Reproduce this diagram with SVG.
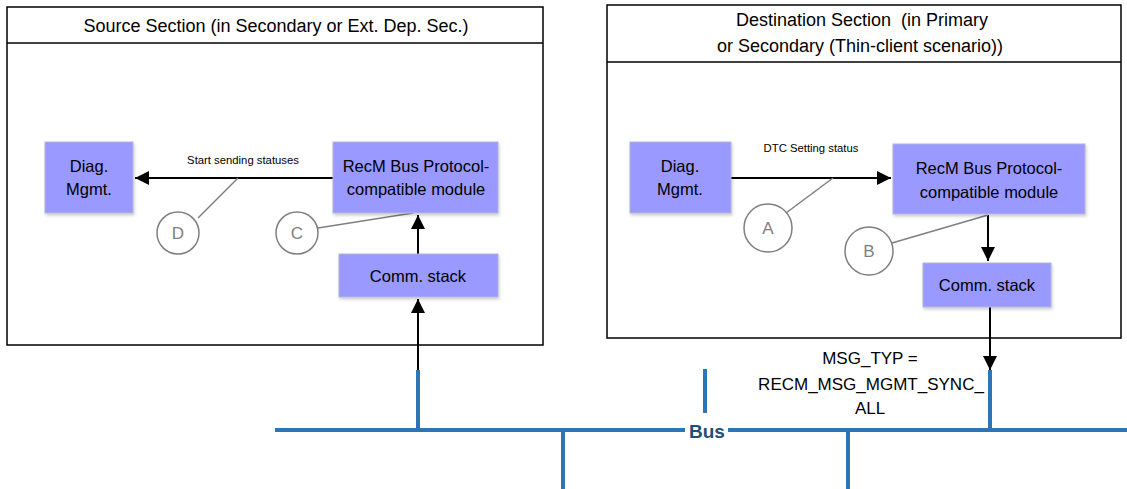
<svg xmlns="http://www.w3.org/2000/svg" width="1127" height="489" viewBox="0 0 1127 489">
<defs>
<marker id="ahb" viewBox="0 0 10 10" refX="10" refY="5" markerWidth="14" markerHeight="14" markerUnits="userSpaceOnUse" orient="auto">
<path d="M0,0 L10,5 L0,10 z" fill="#000"/>
</marker>
<filter id="sh" x="-10%" y="-10%" width="130%" height="140%">
<feDropShadow dx="1" dy="2" stdDeviation="1.5" flood-color="#000" flood-opacity="0.2"/>
</filter>
</defs>
<style>
text{font-family:"Liberation Sans","Noto Sans",sans-serif;fill:#000}
.cont{fill:#fff;stroke:#000;stroke-width:1.5}
.box{fill:#9999FF;stroke:#b4b4d8;stroke-width:1;filter:url(#sh)}
.bt{font-size:16.5px;text-anchor:middle}
.title{font-size:18px;text-anchor:middle}
.lbl{font-size:11.3px;text-anchor:middle}
.circ{fill:#fff;stroke:#7f7f7f;stroke-width:1.5}
.ct{font-size:17px;fill:#7f7f7f;text-anchor:middle}
.lead{stroke:#7f7f7f;stroke-width:1.5;fill:none}
.arr{stroke:#000;stroke-width:2;fill:none}
.msg{font-size:17px;text-anchor:middle}
.bus{stroke:#2E75B6;stroke-width:4;fill:none}
</style>
<g id="source-section">
<rect class="cont" x="7" y="7" width="536" height="338"/>
<line x1="7" y1="43" x2="543" y2="43" stroke="#000" stroke-width="1.5"/>
<text class="title" x="276" y="32">Source Section (in Secondary or Ext. Dep. Sec.)</text>
</g>
<g id="destination-section">
<rect class="cont" x="607" y="5" width="514" height="333"/>
<line x1="607" y1="62" x2="1121" y2="62" stroke="#000" stroke-width="1.5"/>
<text class="title" x="862" y="26" xml:space="preserve">Destination Section  (in Primary</text>
<text class="title" x="860" y="52">or Secondary (Thin-client scenario))</text>
</g>
<g id="connectors">
<line class="arr" x1="333" y1="178" x2="135" y2="178" marker-end="url(#ahb)"/>
<line class="arr" x1="418" y1="254" x2="418" y2="215" marker-end="url(#ahb)"/>
<line class="arr" x1="418" y1="372" x2="418" y2="299" marker-end="url(#ahb)"/>
<line class="arr" x1="731" y1="178" x2="891" y2="178" marker-end="url(#ahb)"/>
<line class="arr" x1="988" y1="215" x2="988" y2="261" marker-end="url(#ahb)"/>
<line class="arr" x1="990" y1="307" x2="990" y2="370" marker-end="url(#ahb)" stroke-width="1.5"/>
<line class="lead" x1="198" y1="218" x2="238" y2="178"/>
<line class="lead" x1="318" y1="228" x2="413" y2="213"/>
<line class="lead" x1="786" y1="213" x2="833" y2="178"/>
<line class="lead" x1="892" y1="243" x2="988" y2="215"/>
<text class="lbl" x="243" y="164">Start sending statuses</text>
<text class="lbl" x="811" y="152">DTC Setting status</text>
<text class="msg" x="870" y="364">MSG_TYP =</text>
<text class="msg" x="871" y="390">RECM_MSG_MGMT_SYNC_</text>
<text class="msg" x="870" y="414">ALL</text>
</g>
<g id="bus">
<line class="bus" x1="275" y1="430" x2="1127" y2="430"/>
<line class="bus" x1="418" y1="370" x2="418" y2="430"/>
<line class="bus" x1="990" y1="370" x2="990" y2="430"/>
<line class="bus" x1="705" y1="369" x2="705" y2="413"/>
<line class="bus" x1="563" y1="430" x2="563" y2="489"/>
<line class="bus" x1="848" y1="430" x2="848" y2="489"/>
<rect x="685" y="421" width="43" height="20" fill="#fff"/>
<text x="707" y="438" font-size="19" font-weight="bold" text-anchor="middle" style="fill:#1F4E79">Bus</text>
</g>
<g id="src-diag">
<rect class="box" x="45" y="142" width="88" height="71"/>
<text class="bt" x="89" y="172">Diag.</text>
<text class="bt" x="89" y="195">Mgmt.</text>
</g>
<g id="src-recm">
<rect class="box" x="333" y="142" width="165" height="71"/>
<text class="bt" x="416" y="172">RecM Bus Protocol-</text>
<text class="bt" x="416" y="195">compatible module</text>
</g>
<g id="src-comm">
<rect class="box" x="339" y="254" width="159" height="43"/>
<text class="bt" x="418" y="282">Comm. stack</text>
</g>
<g id="dst-diag">
<rect class="box" x="630" y="142" width="101" height="71"/>
<text class="bt" x="680" y="172">Diag.</text>
<text class="bt" x="680" y="195">Mgmt.</text>
</g>
<g id="dst-recm">
<rect class="box" x="893" y="144" width="192" height="70"/>
<text class="bt" x="989" y="174">RecM Bus Protocol-</text>
<text class="bt" x="989" y="198">compatible module</text>
</g>
<g id="dst-comm">
<rect class="box" x="923" y="263" width="128" height="44"/>
<text class="bt" x="987" y="291">Comm. stack</text>
</g>
<g id="circle-D">
<circle class="circ" cx="178" cy="233" r="21"/>
<text class="ct" x="178" y="239">D</text>
</g>
<g id="circle-C">
<circle class="circ" cx="297" cy="233" r="21"/>
<text class="ct" x="297" y="239">C</text>
</g>
<g id="circle-A">
<circle class="circ" cx="768" cy="228" r="24"/>
<text class="ct" x="768" y="234">A</text>
</g>
<g id="circle-B">
<circle class="circ" cx="869" cy="251" r="24"/>
<text class="ct" x="869" y="257">B</text>
</g>
</svg>
